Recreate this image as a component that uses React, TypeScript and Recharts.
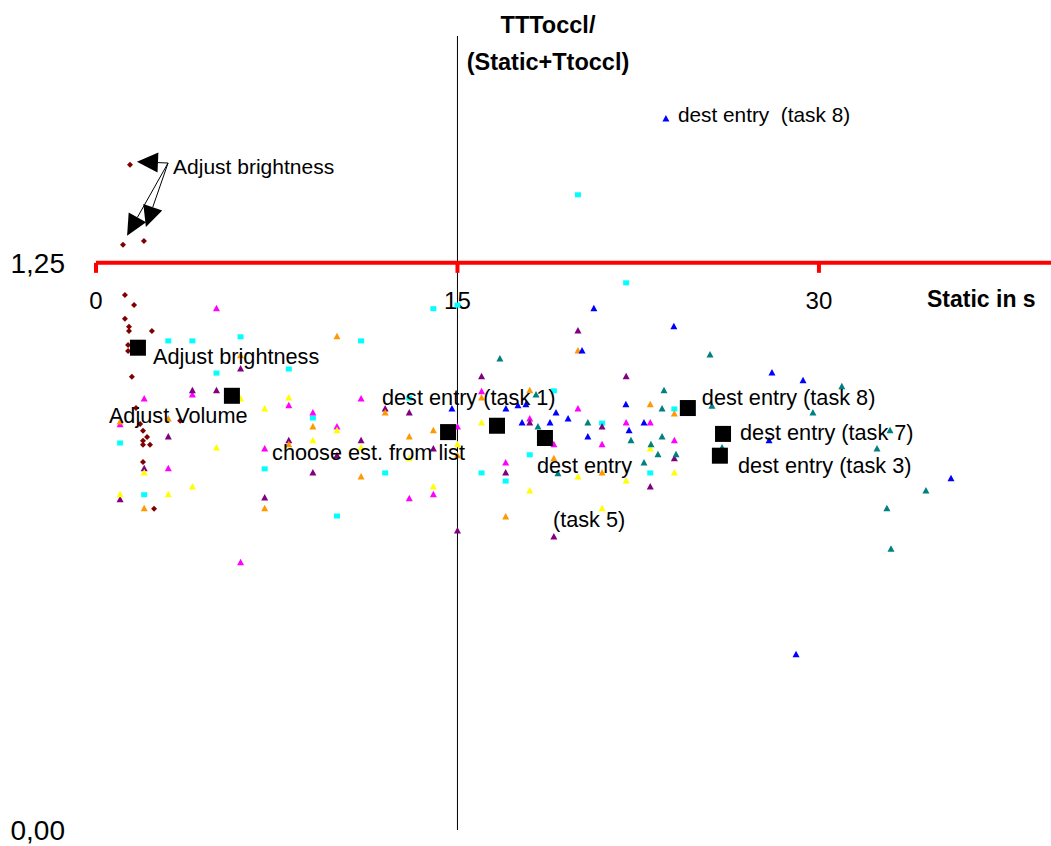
import React from "react";
import { ScatterChart, Scatter, XAxis, YAxis, ReferenceLine, ReferenceDot } from "recharts";

type Pt = [number, number];

const FONT = '"Liberation Sans", Arial, Helvetica, sans-serif';

// Adjust brightness single trials (dark red)
const brightnessPts: Pt[] = [
    [1.41, 1.466], [1.12, 1.29], [1.99, 1.298], [1.2, 1.179], [1.58, 1.157], [1.2, 1.127],
    [1.37, 1.109], [1.37, 1.1], [2.32, 1.1], [1.33, 1.069], [1.33, 1.056], [1.49, 0.999],
    [1.66, 0.93], [1.83, 0.895], [3.49, 0.902], [1.95, 0.88], [2.12, 0.866], [1.95, 0.858],
    [2.24, 0.849], [1.95, 0.849], [1.95, 0.811], [2.41, 0.708],
];

const cyanPts: Pt[] = [
    [20, 1.4], [22, 1.206], [3, 1.078], [4, 1.078], [6, 1.087], [5, 1.007], [8, 1.016],
    [1, 0.853], [2, 0.739], [7, 0.796], [14, 1.149], [15, 1.157], [11, 1.078], [9, 0.908],
    [13, 0.952], [12, 0.787], [10, 0.692], [19, 0.968], [21, 0.897], [24, 0.928], [18, 0.827],
    [16, 0.787], [17, 0.769], [23, 0.787],
];

const magentaPts: Pt[] = [
    [5, 1.149], [2, 0.95], [4, 0.959], [1, 0.893], [8, 0.935], [7, 0.84], [3, 0.796],
    [6, 0.589], [11, 0.95], [9, 0.919], [10, 0.888], [15, 0.888], [14, 0.739], [13, 0.73],
    [16, 0.966], [20, 0.928], [18, 0.906], [22, 0.897], [23, 0.897], [19, 0.849], [21, 0.849],
    [24, 0.858], [17, 0.809],
];

const purplePts: Pt[] = [
    [6, 1.016], [4, 0.968], [5, 0.968], [3, 0.866], [8, 0.858], [2, 0.796], [1, 0.728],
    [7, 0.732], [12, 0.928], [13, 0.919], [10, 0.825], [11, 0.858], [14, 0.84], [9, 0.787],
    [15, 0.659], [20, 1.1], [16, 0.999], [22, 0.999], [18, 0.897], [21, 0.888], [17, 0.787],
    [23, 0.756], [19, 0.646], [24, 0.818],
];

const orangePts: Pt[] = [
    [6, 1.045], [3, 0.906], [1, 0.899], [2, 0.708], [7, 0.708], [10, 1.087], [12, 0.919],
    [9, 0.888], [13, 0.866], [14, 0.88], [8, 0.849], [11, 0.778], [15, 0.825], [20, 1.056],
    [16, 0.952], [18, 0.968], [23, 0.937], [24, 0.917], [19, 0.818], [21, 0.787], [17, 0.69],
];

const yellowPts: Pt[] = [
    [6, 0.95], [7, 0.928], [8, 0.952], [5, 0.842], [2, 0.787], [4, 0.756], [1, 0.739],
    [3, 0.739], [9, 0.858], [10, 0.88], [11, 0.842], [13, 0.818], [14, 0.756], [15, 0.849],
    [16, 0.897], [20, 0.778], [22, 0.769], [18, 0.747], [21, 0.708], [23, 0.84], [24, 0.787],
];

const bluePts: Pt[] = [
    [23.65, 1.567], [14.77, 0.928], [20.66, 1.149], [23.98, 1.109], [20.17, 1.056],
    [17.01, 0.928], [17.51, 0.935], [17.84, 0.937], [19.09, 0.919], [19.59, 0.906],
    [17.68, 0.897], [18.84, 0.897], [21.99, 0.937], [22.74, 0.897], [20.41, 0.866],
    [22.12, 0.88], [28.05, 1.007], [29.34, 0.99], [27.93, 0.858], [35.48, 0.774], [29.05, 0.386],
];

const tealPts: Pt[] = [
    [16.76, 1.038], [18.26, 0.959], [18.34, 0.888], [20.41, 0.897], [22.2, 0.858],
    [23.49, 0.928], [23.57, 0.968], [23.03, 0.849], [23.49, 0.866], [23.32, 0.827],
    [24.07, 0.827], [22.74, 0.809], [19.17, 0.785], [25.48, 1.047], [25.56, 0.934],
    [29.75, 0.919], [30.95, 0.977], [32.95, 0.88], [32.41, 0.84], [34.44, 0.747],
    [32.82, 0.708], [32.99, 0.619], [25.98, 0.842],
];

// task means (black squares)
const meanPts: Pt[] = [
    [1.74, 1.063], [5.64, 0.957], [14.61, 0.877], [16.64, 0.891], [18.63, 0.864],
    [24.56, 0.93], [26.02, 0.873], [25.89, 0.825],
];
const meanLabels: string[][] = [
    ["Adjust brightness"],
    ["Adjust Volume"],
    ["choose est. from list"],
    ["dest entry (task 1)"],
    ["dest entry", "(task 5)"],
    ["dest entry (task 8)"],
    ["dest entry (task 7)"],
    ["dest entry (task 3)"],
];
// pixel offset of each label line start from its square
const meanLabelOffsets: [number, number][][] = [
    [[15, 16]],
    [[-123, 27]],
    [[-176, 28]],
    [[-115, -21]],
    [[-8, 35], [8, 89]],
    [[14, -3]],
    [[17, 6]],
    [[18, 17]],
];

// callout "Adjust brightness" with arrows to the outliers
const calloutFrom: Pt = [2.99, 1.47];
const calloutTargets: Pt[] = [[1.7, 1.473], [1.29, 1.31], [2.07, 1.329]];
const topNoteAnchor: Pt = [23.65, 1.567];

const xTicks = [0, 15, 30];
const yTicks = [0, 1.25];
const xMax = 39.63;
const yMax = 1.75;
const axisY = 1.25;

const toData = (pts: Pt[]) => pts.map(([x, y]) => ({ x, y }));

const triangle = (color: string) => (p: any) => (
    <polygon
        points={`${p.cx},${p.cy - 4} ${p.cx - 3.5},${p.cy + 2.5} ${p.cx + 3.5},${p.cy + 2.5}`}
        fill={color}
    />
);

const diamond = (p: any) => (
    <polygon
        points={`${p.cx},${p.cy - 3} ${p.cx + 3},${p.cy} ${p.cx},${p.cy + 3} ${p.cx - 3},${p.cy}`}
        fill="#800000"
    />
);

const smallSquare = (p: any) => <rect x={p.cx - 3} y={p.cy - 2.5} width={6} height={5} fill="#00FFFF" />;

const bigSquare = (p: any) => <rect x={p.cx - 8} y={p.cy - 8} width={16} height={16} fill="#000" />;

function Arrow(props: any) {
    const { x1, y1, x2, y2 } = props;
    const a = Math.atan2(y2 - y1, x2 - x1);
    const len = 21;
    const half = 10;
    const bx = x2 - len * Math.cos(a);
    const by = y2 - len * Math.sin(a);
    const nx = -Math.sin(a) * half;
    const ny = Math.cos(a) * half;
    return (
        <g>
            <line x1={x1} y1={y1} x2={bx} y2={by} stroke="#000" strokeWidth={1} />
            <polygon points={`${x2},${y2} ${bx + nx},${by + ny} ${bx - nx},${by - ny}`} fill="#000" />
        </g>
    );
}

const textStyle = { fontFamily: FONT, fontSize: 21, fill: "#000" };
const meanTextStyle = { ...textStyle, fontSize: 21.7 };

export default function App() {
    return (
        <div style={{ position: "absolute", left: 0, top: 0, width: 1051, height: 846, background: "#fff" }}>
            <ScatterChart width={1051} height={846} margin={{ top: 36, right: 0, bottom: 16, left: 0 }}>
                <XAxis type="number" dataKey="x" domain={[0, xMax]} hide />
                <YAxis
                    type="number"
                    dataKey="y"
                    domain={[0, yMax]}
                    ticks={yTicks}
                    width={96}
                    axisLine={false}
                    tickLine={false}
                    tickSize={0}
                    tickMargin={31}
                    tick={{ fontFamily: FONT, fontSize: 28, fill: "#000" }}
                    tickFormatter={(v: number) => v.toFixed(2).replace(".", ",")}
                />

                <ReferenceLine x={15} stroke="#000" strokeWidth={1} />
                <ReferenceLine y={axisY} stroke="#FF0000" strokeWidth={4} />
                {xTicks.map((t) => (
                    <ReferenceLine
                        key={`tick-${t}`}
                        segment={[{ x: t, y: axisY }, { x: t, y: axisY - 0.022 }]}
                        stroke="#FF0000"
                        strokeWidth={4}
                    />
                ))}
                {xTicks.map((t) => (
                    <ReferenceDot
                        key={`tl-${t}`}
                        x={t}
                        y={axisY}
                        shape={(p: any) => (
                            <text x={p.cx} y={p.cy + 46} textAnchor="middle" style={{ ...textStyle, fontSize: 24 }}>
                                {t}
                            </text>
                        )}
                    />
                ))}

                <Scatter data={toData(brightnessPts)} shape={diamond} isAnimationActive={false} />
                <Scatter data={toData(cyanPts)} shape={smallSquare} isAnimationActive={false} />
                <Scatter data={toData(magentaPts)} shape={triangle("#FF00FF")} isAnimationActive={false} />
                <Scatter data={toData(purplePts)} shape={triangle("#800080")} isAnimationActive={false} />
                <Scatter data={toData(orangePts)} shape={triangle("#FF9900")} isAnimationActive={false} />
                <Scatter data={toData(yellowPts)} shape={triangle("#FFFF00")} isAnimationActive={false} />
                <Scatter data={toData(bluePts)} shape={triangle("#0000FF")} isAnimationActive={false} />
                <Scatter data={toData(tealPts)} shape={triangle("#008080")} isAnimationActive={false} />
                <Scatter data={toData(meanPts)} shape={bigSquare} isAnimationActive={false} />

                {meanPts.map(([x, y], i) => (
                    <ReferenceDot
                        key={`ml-${i}`}
                        x={x}
                        y={y}
                        shape={(p: any) => (
                            <g>
                                {meanLabels[i].map((line, j) => (
                                    <text
                                        key={j}
                                        x={p.cx + meanLabelOffsets[i][j][0]}
                                        y={p.cy + meanLabelOffsets[i][j][1]}
                                        style={meanTextStyle}
                                    >
                                        {line}
                                    </text>
                                ))}
                            </g>
                        )}
                    />
                ))}

                {calloutTargets.map((t, i) => (
                    <ReferenceLine
                        key={`arr-${i}`}
                        segment={[{ x: calloutFrom[0], y: calloutFrom[1] }, { x: t[0], y: t[1] }]}
                        shape={Arrow}
                    />
                ))}
                <ReferenceDot
                    x={calloutFrom[0]}
                    y={calloutFrom[1]}
                    shape={(p: any) => (
                        <text x={p.cx + 5} y={p.cy + 11} style={textStyle}>
                            Adjust brightness
                        </text>
                    )}
                />
                <ReferenceDot
                    x={topNoteAnchor[0]}
                    y={topNoteAnchor[1]}
                    shape={(p: any) => (
                        <text x={p.cx + 12} y={p.cy + 3} style={{ ...textStyle, fontSize: 20.8 }} xmlSpace="preserve">
                            dest entry  (task 8)
                        </text>
                    )}
                />
            </ScatterChart>

            <div
                style={{
                    position: "absolute",
                    left: 548,
                    top: 7,
                    transform: "translateX(-50%)",
                    fontFamily: FONT,
                    fontWeight: "bold",
                    fontSize: 23.5,
                    lineHeight: "37px",
                    textAlign: "center",
                    whiteSpace: "nowrap",
                }}
            >
                TTToccl/
                <br />
                (Static+Ttoccl)
            </div>
            <div
                style={{
                    position: "absolute",
                    left: 927,
                    top: 286,
                    fontFamily: FONT,
                    fontWeight: "bold",
                    fontSize: 23,
                    whiteSpace: "nowrap",
                }}
            >
                Static in s
            </div>
        </div>
    );
}
